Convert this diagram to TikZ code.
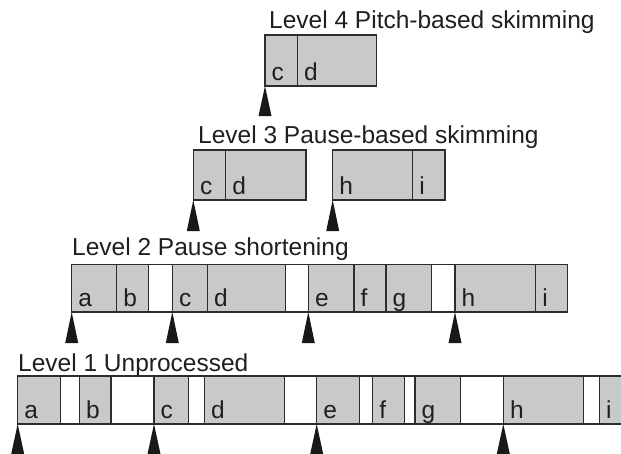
\documentclass[tikz,border=0pt]{standalone}
\usepackage{fontspec}
\setmainfont{Liberation Sans}
\definecolor{segfill}{RGB}{200,201,203}
\definecolor{segline}{RGB}{45,45,45}
\tikzset{
  speech/.style={draw=segline, fill=segfill, line width=1.2pt, inner sep=0pt, outer sep=0pt, anchor=north west},
  pause/.style={draw=segline, fill=white, line width=1.2pt, inner sep=0pt, outer sep=0pt, anchor=north west},
  letter/.style={font=\fontsize{24.5}{26}\selectfont, text=black!88, inner sep=0pt, anchor=base west},
  leveltitle/.style={font=\fontsize{24.5}{26}\selectfont, text=black!88, inner sep=0pt, anchor=base west},
  marker/.style={fill=black!90, draw=none}
}
% \seg{name}{x1}{x2}{ytop}{ybot}{style}{letter}
\newcommand{\seg}[7]{%
  \pgfmathsetmacro{\segw}{#3-#2}%
  \pgfmathsetmacro{\segh}{#5-#4}%
  \node[#6, minimum width=\segw pt, minimum height=\segh pt] (#1) at (#2,#4) {};
  \node[letter] (#1t) at ([xshift=6.5pt,yshift=6pt]#1.south west) {#7};
}
\newcommand{\segp}[5]{%
  \pgfmathsetmacro{\segw}{#3-#2}%
  \pgfmathsetmacro{\segh}{#5-#4}%
  \node[pause, minimum width=\segw pt, minimum height=\segh pt] (#1) at (#2,#4) {};
}
\newcommand{\segmark}[2]{%
  \fill[marker] (#1.south west) -- ++(-6.5,#2) -- ++(13,0) -- cycle;
}
\begin{document}
\begin{tikzpicture}[x=1pt,y=-1pt]
\useasboundingbox (0,0) rectangle (621,453);
\clip (0,0) rectangle (621,453);

% Level 4
\node[leveltitle] (t4) at (269,28) {Level 4 Pitch-based skimming};
\seg{l4c}{265}{297.3}{35}{86}{speech}{c}
\seg{l4d}{297.3}{376.7}{35}{86}{speech}{d}
\segmark{l4c}{30}

% Level 3
\node[leveltitle] (t3) at (198,143) {Level 3 Pause-based skimming};
\seg{l3c}{193.3}{225.7}{150}{200}{speech}{c}
\seg{l3d}{225.7}{306}{150}{200}{speech}{d}
\seg{l3h}{332.7}{412.7}{150}{200}{speech}{h}
\seg{l3i}{412.7}{445}{150}{200}{speech}{i}
\segmark{l3c}{31}
\segmark{l3h}{31}

% Level 2
\node[leveltitle] (t2) at (72,255) {Level 2 Pause shortening};
\seg{l2a}{71.7}{116.7}{264.3}{312}{speech}{a}
\seg{l2b}{116.7}{148.3}{264.3}{312}{speech}{b}
\segp{l2p1}{148.3}{172.3}{264.3}{312}
\seg{l2c}{172.3}{207.3}{264.3}{312}{speech}{c}
\seg{l2d}{207.3}{285.3}{264.3}{312}{speech}{d}
\segp{l2p2}{285.3}{308.3}{264.3}{312}
\seg{l2e}{308.3}{354}{264.3}{312}{speech}{e}
\seg{l2f}{354}{386}{264.3}{312}{speech}{f}
\seg{l2g}{386}{431.7}{264.3}{312}{speech}{g}
\segp{l2p3}{431.7}{455}{264.3}{312}
\seg{l2h}{455}{535.7}{264.3}{312}{speech}{h}
\seg{l2i}{535.7}{567.3}{264.3}{312}{speech}{i}
\segmark{l2a}{31}
\segmark{l2c}{31}
\segmark{l2e}{31}
\segmark{l2h}{31}

% Level 1
\node[leveltitle] (t1) at (18,371) {Level 1 Unprocessed};
\seg{l1a}{17.7}{60.3}{376}{424}{speech}{a}
\segp{l1p1}{60.3}{79.3}{376}{424}
\seg{l1b}{79.3}{111}{376}{424}{speech}{b}
\segp{l1p2}{111}{154}{376}{424}
\seg{l1c}{154}{188.7}{376}{424}{speech}{c}
\segp{l1p3}{188.7}{204.3}{376}{424}
\seg{l1d}{204.3}{284.3}{376}{424}{speech}{d}
\segp{l1p4}{284.3}{316.7}{376}{424}
\seg{l1e}{316.7}{359.3}{376}{424}{speech}{e}
\segp{l1p5}{359.3}{372.7}{376}{424}
\seg{l1f}{372.7}{404.3}{376}{424}{speech}{f}
\segp{l1p6}{404.3}{415}{376}{424}
\seg{l1g}{415}{460.7}{376}{424}{speech}{g}
\segp{l1p7}{460.7}{503.3}{376}{424}
\seg{l1h}{503.3}{583.5}{376}{424}{speech}{h}
\segp{l1p8}{583.5}{599.3}{376}{424}
\seg{l1i}{599.3}{640}{376}{424}{speech}{i}
\segmark{l1a}{30}
\segmark{l1c}{30}
\segmark{l1e}{30}
\segmark{l1h}{30}
\end{tikzpicture}
\end{document}
